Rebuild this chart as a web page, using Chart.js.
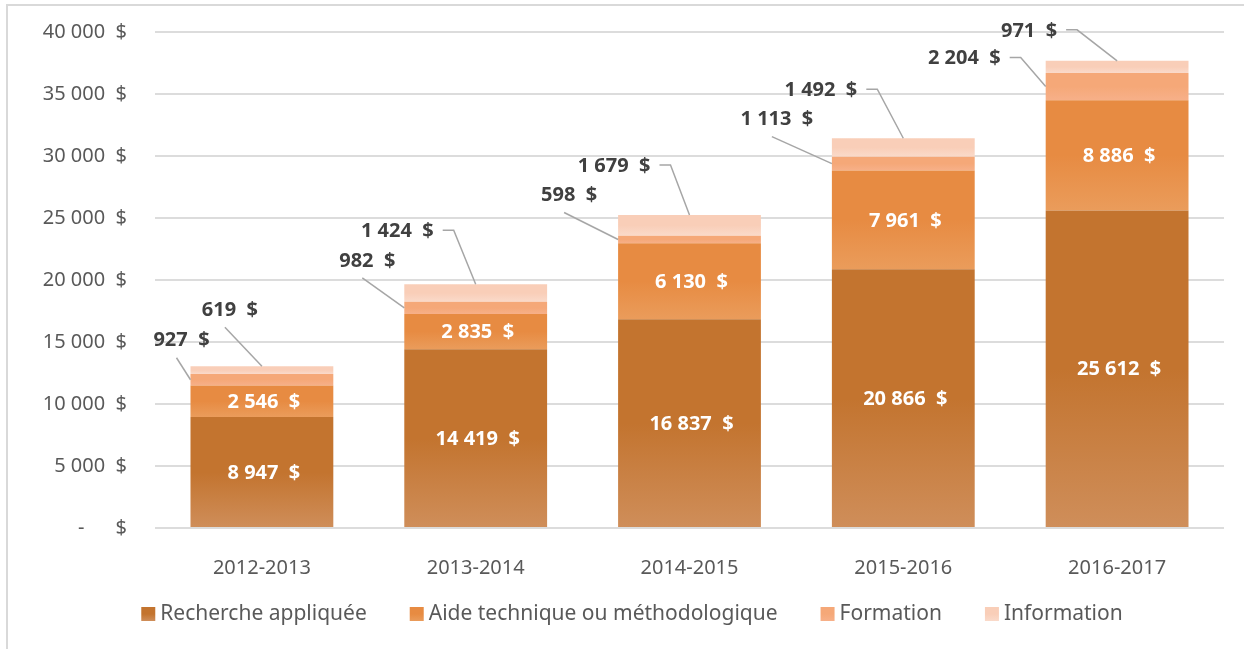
<!DOCTYPE html>
<html>
<head>
<meta charset="utf-8">
<script src="https://cdn.jsdelivr.net/npm/chart.js@4.4.0/dist/chart.umd.min.js"></script>
<style>
  html, body { margin: 0; padding: 0; background: #fff; }
  canvas { display: block; }
</style>
</head>
<body>
<canvas id="chart" width="1244" height="649"></canvas>
<script>
// data
const categories = ['2012-2013', '2013-2014', '2014-2015', '2015-2016', '2016-2017'];
const recherche = [8947, 14419, 16837, 20866, 25612];
const aide = [2546, 2835, 6130, 7961, 8886];
const formation = [927, 982, 598, 1113, 2204];
const information = [619, 1424, 1679, 1492, 971];
const yTicks = [0, 5000, 10000, 15000, 20000, 25000, 30000, 35000, 40000];

// where the outside labels sit, relative to the point they point at
// [dx, dy, mode] : 'right' -> dx is the right end of the text, 'below' -> dx is the text centre
const formationCallouts = [[-9, -39, 'below'], [-37, -47, 'below'], [-49, -44, 'below'], [-55, -44, 'below'], [-45, -28, 'right']];
const informationCallouts = [[-32, -56, 'below'], [-42, -53, 'right'], [-39, -49, 'right'], [-46, -48, 'right'], [-60, -30, 'right']];

const FONT = '"Noto Sans", "Open Sans", sans-serif';
const group = v => String(v).replace(/\B(?=(\d{3})+(?!\d))/g, ' ');
const money = v => group(v) + '  $';

// vertical shading of each stacked segment, lighter at the bottom
function segmentFill(top, bottom) {
    return ctx => {
        const chart = ctx.chart;
        const y = chart.scales.y;
        if (ctx.type !== 'data' || !y || !chart.chartArea) return top;
        const sets = chart.data.datasets;
        let base = 0;
        for (let k = 0; k < ctx.datasetIndex; k++) base += sets[k].data[ctx.dataIndex];
        const y0 = y.getPixelForValue(base + sets[ctx.datasetIndex].data[ctx.dataIndex]);
        const y1 = y.getPixelForValue(base);
        const g = chart.ctx.createLinearGradient(0, y0, 0, y1);
        g.addColorStop(0, top);
        g.addColorStop(0.5, top);
        g.addColorStop(1, bottom);
        return g;
    };
}

const colors = [
    ['#C3742F', '#CF8E5A'],
    ['#E78B42', '#EA9C5B'],
    ['#F5A878', '#F7B089'],
    ['#F9CEB8', '#FADACA']
];

const frame = {
    id: 'frame',
    beforeDraw(chart) {
        const c = chart.ctx;
        c.save();
        c.fillStyle = '#fff';
        c.fillRect(0, 0, chart.width, chart.height);
        c.strokeStyle = '#D9D9D9';
        c.lineWidth = 2;
        c.beginPath();
        c.moveTo(7, chart.height);
        c.lineTo(7, 5);
        c.lineTo(chart.width, 5);
        c.stroke();
        c.restore();
    }
};

function callout(c, text, ax, ay, pos) {
    const [dx, dy, mode] = pos;
    const ty = ay + dy;
    c.beginPath();
    if (mode === 'right') {
        const right = ax + dx;
        c.textAlign = 'right';
        c.fillText(text, right, ty);
        c.moveTo(right + 9, ty - 1);
        c.lineTo(right + 20, ty - 1);
        c.lineTo(ax, ay);
    } else {
        const cx = ax + dx;
        c.textAlign = 'center';
        c.fillText(text, cx, ty);
        c.moveTo(cx - 5, ty + 17);
        c.lineTo(ax, ay);
    }
    c.stroke();
}

const valueLabels = {
    id: 'valueLabels',
    afterDatasetsDraw(chart) {
        const c = chart.ctx;
        const sets = chart.data.datasets;
        c.save();
        c.font = 'bold 20px ' + FONT;
        c.textBaseline = 'middle';
        c.textAlign = 'center';
        c.fillStyle = '#FFFFFF';
        [0, 1].forEach(di => {
            chart.getDatasetMeta(di).data.forEach((bar, i) => {
                c.fillText(money(sets[di].data[i]), bar.x + 2, (bar.y + bar.base) / 2 + 1);
            });
        });

        c.fillStyle = '#404040';
        c.strokeStyle = '#A6A6A6';
        c.lineWidth = 1.5;
        chart.getDatasetMeta(2).data.forEach((bar, i) => {
            callout(c, money(sets[2].data[i]), bar.x - bar.width / 2, (bar.y + bar.base) / 2, formationCallouts[i]);
        });
        chart.getDatasetMeta(3).data.forEach((bar, i) => {
            callout(c, money(sets[3].data[i]), bar.x, bar.y, informationCallouts[i]);
        });
        c.restore();
    }
};

const bottomLegend = {
    id: 'bottomLegend',
    afterDraw(chart) {
        const c = chart.ctx;
        const sets = chart.data.datasets;
        const box = 14, gap = 5, spacing = 43;
        c.save();
        c.font = '21px ' + FONT;
        c.textBaseline = 'middle';
        c.textAlign = 'left';
        const widths = sets.map(s => c.measureText(s.label).width);
        const total = widths.reduce((a, w) => a + box + gap + w, 0) + spacing * (sets.length - 1);
        let x = 632 - total / 2;
        const y = 614;
        sets.forEach((s, i) => {
            const g = c.createLinearGradient(0, y - box / 2, 0, y + box / 2);
            g.addColorStop(0, colors[i][0]);
            g.addColorStop(0.5, colors[i][0]);
            g.addColorStop(1, colors[i][1]);
            c.fillStyle = g;
            c.fillRect(x, y - box / 2, box, box);
            c.fillStyle = '#595959';
            c.fillText(s.label, x + box + gap, y);
            x += box + gap + widths[i] + spacing;
        });
        c.restore();
    }
};

const labels = ['Recherche appliquée', 'Aide technique ou méthodologique', 'Formation', 'Information'];
const series = [recherche, aide, formation, information];

new Chart(document.getElementById('chart'), {
    type: 'bar',
    data: {
        labels: categories,
        datasets: series.map((values, i) => ({
            label: labels[i],
            data: values,
            backgroundColor: segmentFill(colors[i][0], colors[i][1]),
            borderWidth: 0,
            categoryPercentage: 1,
            barPercentage: 0.668
        }))
    },
    options: {
        responsive: false,
        animation: false,
        devicePixelRatio: 1,
        layout: { padding: { top: 32, right: 20, bottom: 61, left: 0 } },
        plugins: {
            legend: { display: false },
            tooltip: { enabled: false }
        },
        scales: {
            x: {
                stacked: true,
                grid: { display: false },
                border: { display: false },
                ticks: { color: '#595959', font: { family: FONT, size: 20 }, padding: 20 },
                afterFit: s => { s.height = 60; }
            },
            y: {
                stacked: true,
                min: 0,
                max: 40000,
                afterBuildTicks: s => { s.ticks = yTicks.map(v => ({ value: v })); },
                grid: { color: '#DCDCDC', lineWidth: 2, drawTicks: true, tickLength: 28, tickColor: 'rgba(0,0,0,0)' },
                border: { display: false },
                ticks: {
                    color: '#595959',
                    font: { family: FONT, size: 20 },
                    padding: 0,
                    callback: v => v === 0 ? '-      $' : money(v)
                },
                afterFit: s => { s.width = 155; }
            }
        }
    },
    plugins: [frame, valueLabels, bottomLegend]
});
</script>
</body>
</html>
